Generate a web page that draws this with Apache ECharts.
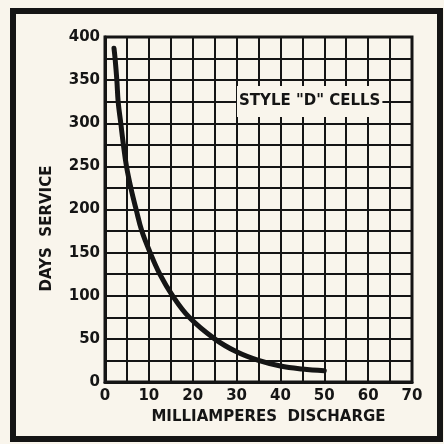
<!DOCTYPE html>
<html>
<head>
<meta charset="utf-8">
<script src="https://cdn.jsdelivr.net/npm/echarts@6/dist/echarts.min.js"></script>
<style>
  html, body { margin: 0; padding: 0; background: #f9f5ec; }
  #main { width: 444px; height: 444px; }
</style>
</head>
<body>
<div id="main"></div>
<script>
// values
var milliamps   = [2.05, 2.3, 2.7, 3.0, 3.6, 4.2, 4.9, 5.9, 7.1, 8.4, 10.3, 12.5, 15.4, 19.2, 25, 30, 35, 40, 45, 50];
var daysService = [387, 375, 350, 325, 300, 275, 250, 225, 200, 175, 150, 125, 100, 75, 50, 35, 25, 18.5, 15, 13];
var xTicks = [0, 10, 20, 30, 40, 50, 60, 70];
var yTicks = [0, 50, 100, 150, 200, 250, 300, 350, 400];
var curveLabel = 'STYLE "D" CELLS';

var ink = '#151515';
var paper = '#f9f5ec';
var font = 'DejaVu Sans';

var myChart = echarts.init(document.getElementById('main'));

var points = [];
for (var i = 0; i < milliamps.length; i++) {
    points.push([milliamps[i], daysService[i]]);
}

var option = {
    backgroundColor: paper,
    animation: false,
    grid: {
        left: 105,
        right: 32,
        top: 37,
        bottom: 62,
        show: true,
        borderColor: ink,
        borderWidth: 3,
        backgroundColor: 'transparent'
    },
    xAxis: {
        type: 'value',
        min: xTicks[0],
        max: xTicks[xTicks.length - 1],
        interval: 10,
        name: 'MILLIAMPERES  DISCHARGE',
        nameLocation: 'middle',
        nameGap: 28,
        nameTextStyle: { color: ink, fontFamily: font, fontWeight: 'bold', fontSize: 15, padding: [0, 0, 0, 20] },
        axisLine: { show: true, lineStyle: { color: ink, width: 3 } },
        axisTick: { show: false },
        minorTick: { show: false, splitNumber: 2 },
        axisLabel: { color: ink, fontFamily: font, fontWeight: 'bold', fontSize: 15, margin: 7 },
        splitLine: { show: true, lineStyle: { color: ink, width: 2 } },
        minorSplitLine: { show: true, lineStyle: { color: ink, width: 2 } }
    },
    yAxis: {
        type: 'value',
        min: yTicks[0],
        max: yTicks[yTicks.length - 1],
        interval: 50,
        name: 'DAYS  SERVICE',
        nameLocation: 'middle',
        nameGap: 50,
        nameTextStyle: { color: ink, fontFamily: font, fontWeight: 'bold', fontSize: 15, padding: [0, 38, 0, 0] },
        axisLine: { show: true, lineStyle: { color: ink, width: 3 } },
        axisTick: { show: false },
        minorTick: { show: false, splitNumber: 2 },
        axisLabel: { color: ink, fontFamily: font, fontWeight: 'bold', fontSize: 15, margin: 5 },
        splitLine: { show: true, lineStyle: { color: ink, width: 2 } },
        minorSplitLine: { show: true, lineStyle: { color: ink, width: 2 } }
    },
    graphic: [
        // thick black frame round the figure
        {
            type: 'rect',
            shape: { x: 13, y: 11, width: 427, height: 428 },
            style: { fill: 'none', stroke: ink, lineWidth: 6 },
            z: 10
        },
        // curve label sitting on the 325 grid line
        {
            type: 'text',
            left: 237,
            top: 86,
            style: {
                text: curveLabel,
                fill: ink,
                font: 'bold 15px "DejaVu Sans"',
                backgroundColor: paper,
                padding: [8, 2, 8, 2]
            },
            z: 10
        }
    ],
    series: [
        {
            name: curveLabel,
            type: 'line',
            smooth: 0.4,
            showSymbol: false,
            data: points,
            lineStyle: { color: ink, width: 5, cap: 'round', join: 'round' },
            z: 5
        }
    ]
};

myChart.setOption(option);
</script>
</body>
</html>
